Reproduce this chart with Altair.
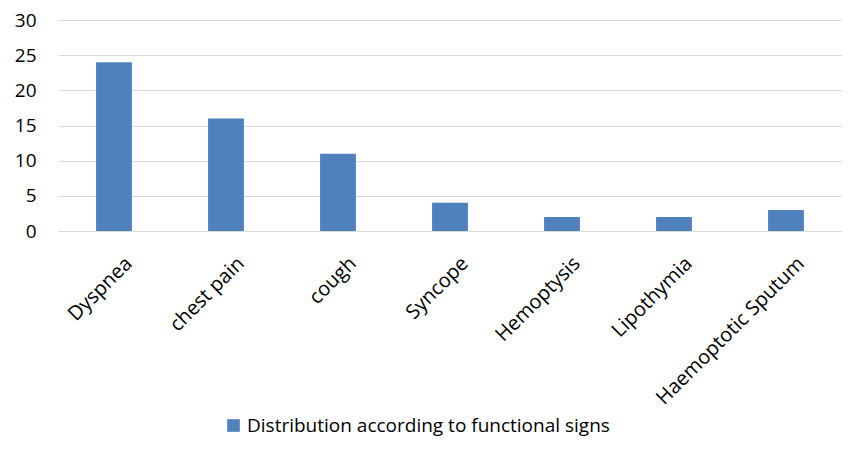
import altair as alt
import pandas as pd

categories = ["Dyspnea", "chest pain", "cough", "Syncope", "Hemoptysis", "Lipothymia", "Haemoptotic Sputum"]
values = [24, 16, 11, 4, 2, 2, 3]
series_name = "Distribution according to functional signs"
y_ticks = [0, 5, 10, 15, 20, 25, 30]

df = pd.DataFrame({"category": categories, "value": values, "series": [series_name] * len(categories)})

FONT = "Open Sans"

chart = alt.Chart(df).mark_bar(color="#4F81BD").encode(
    x=alt.X("category:N", sort=categories,
            scale=alt.Scale(paddingInner=0.68, paddingOuter=0.34),
            axis=alt.Axis(title=None, labelAngle=-45, labelFontSize=20, labelFont=FONT,
                          labelColor="#000000", ticks=False, domain=True, domainColor="#D9D9D9",
                          labelPadding=22, labelOffset=8, labelLimit=400)),
    y=alt.Y("value:Q", scale=alt.Scale(domain=[0, 30]),
            axis=alt.Axis(title=None, values=y_ticks, labelFontSize=19, labelFont=FONT,
                          labelColor="#000000", ticks=False, domain=False, gridColor="#D9D9D9",
                          labelPadding=22)),
    fill=alt.Fill("series:N", scale=alt.Scale(range=["#4F81BD"]),
                  legend=alt.Legend(title=None, orient="none", legendX=166, legendY=396,
                                    symbolType="square", symbolSize=160, labelFontSize=19,
                                    labelFont=FONT, labelColor="#000000", labelLimit=600,
                                    symbolStrokeWidth=0)),
).properties(
    width=784, height=211,
    autosize=alt.AutoSizeParams(type="none"),
    padding={"left": 50, "top": 12, "right": 0, "bottom": 210},
).configure_view(stroke=None)

chart.save("out.html", embed_options={"renderer": "svg", "actions": False})
